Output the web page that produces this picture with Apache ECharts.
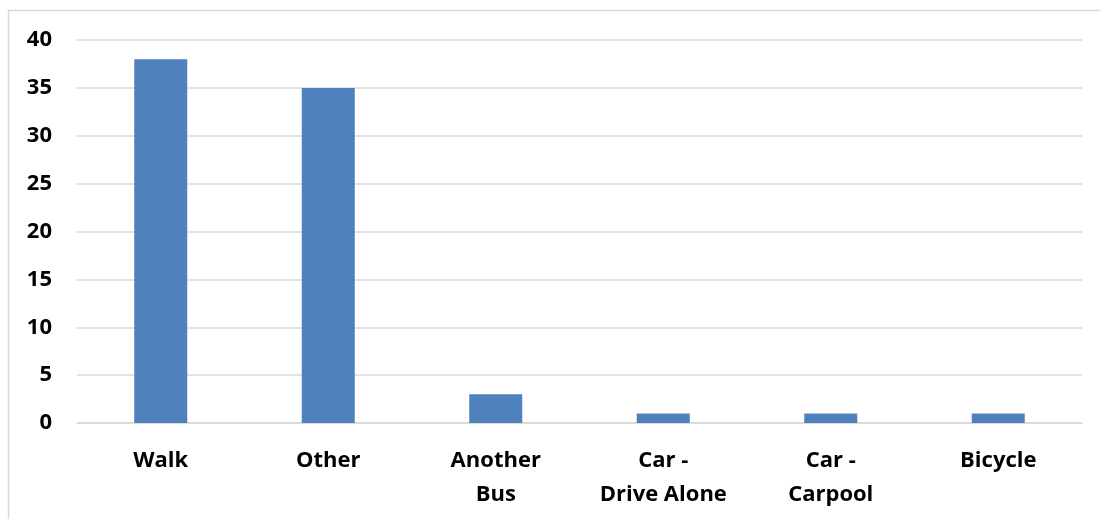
<!DOCTYPE html>
<html>
<head>
<meta charset="utf-8">
<script src="https://cdn.jsdelivr.net/npm/echarts@6/dist/echarts.min.js"></script>
<style>
  html, body { margin: 0; padding: 0; background: #fff; }
  #main { width: 1100px; height: 519px; }
</style>
</head>
<body>
<div id="main"></div>
<script>
// categories and counts
var categories = ['Walk', 'Other', 'Another\nBus', 'Car -\nDrive Alone', 'Car -\nCarpool', 'Bicycle'];
var counts = [38, 35, 3, 1, 1, 1];
var yTicks = { min: 0, max: 40, interval: 5 };

var myChart = echarts.init(document.getElementById('main'));

var labelFont = {
  color: '#000',
  fontFamily: 'Open Sans',
  fontWeight: 'bold',
  fontSize: 22
};

var option = {
  backgroundColor: '#ffffff',
  animation: false,
  graphic: [{
    type: 'rect',
    shape: { x: 8.5, y: 10.5, width: 1200, height: 600 },
    style: { fill: 'none', stroke: '#d9d9d9', lineWidth: 1.5 },
    silent: true
  }],
  grid: { left: 77, right: 18, top: 40, bottom: 96 },
  xAxis: {
    type: 'category',
    data: categories,
    axisLine: { show: true, lineStyle: { color: '#d9d9d9', width: 1.5 } },
    axisTick: { show: false },
    axisLabel: Object.assign({ margin: 21, lineHeight: 34 }, labelFont)
  },
  yAxis: {
    type: 'value',
    min: yTicks.min,
    max: yTicks.max,
    interval: yTicks.interval,
    axisLine: { show: false },
    axisTick: { show: false },
    splitLine: { lineStyle: { color: '#d9d9d9', width: 1.5 } },
    axisLabel: Object.assign({ margin: 25 }, labelFont)
  },
  series: [{
    name: 'Count',
    type: 'bar',
    data: counts,
    barWidth: 53,
    itemStyle: { color: '#4f81bd' }
  }]
};

myChart.setOption(option);
</script>
</body>
</html>
